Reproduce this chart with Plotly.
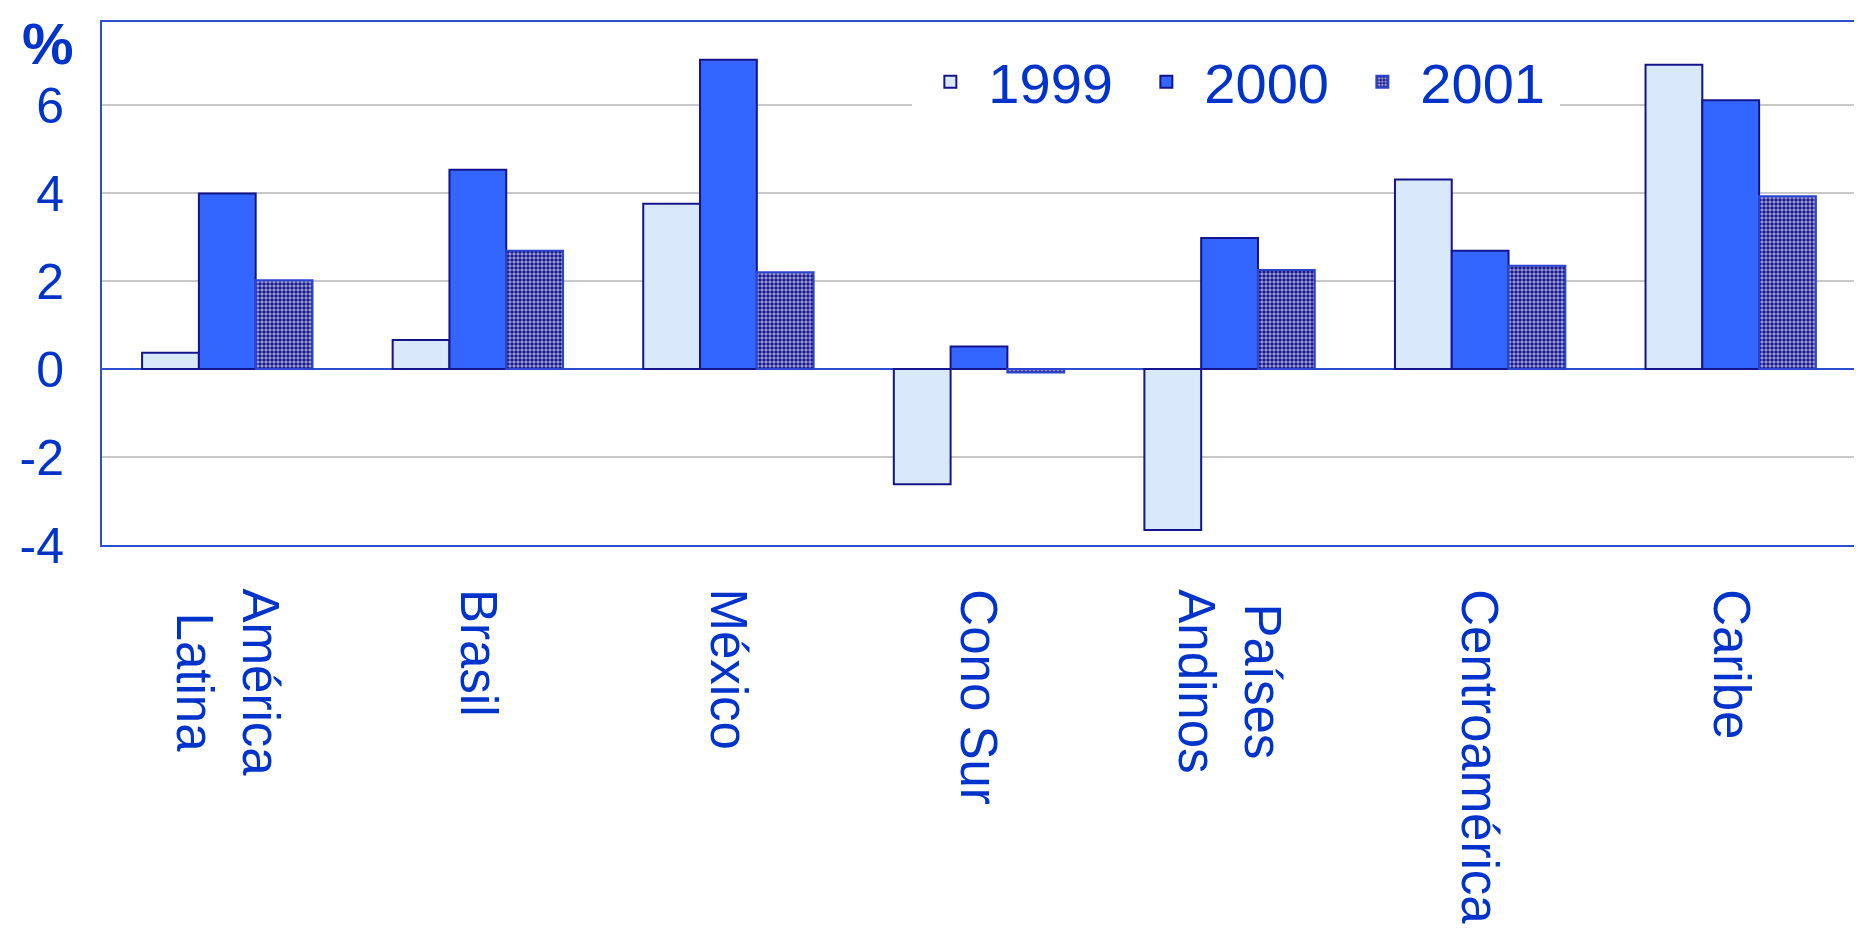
import plotly.graph_objects as go

categories = ["América<br>Latina", "Brasil", "México", "Cono Sur",
              "Países<br>Andinos", "Centroamérica", "Caribe"]
years = ["1999", "2000", "2001"]
v1999 = [0.37, 0.66, 3.76, -2.62, -3.66, 4.31, 6.92]
v2000 = [3.99, 4.53, 7.03, 0.51, 2.98, 2.69, 6.11]
v2001 = [2.02, 2.69, 2.20, -0.08, 2.25, 2.35, 3.93]
yticks = [-4, -2, 0, 2, 4, 6]

BLUE_TXT = "#0033cc"
AXIS = "#2a4fd0"
FONT = "Liberation Sans, Arial, sans-serif"

x_idx = list(range(len(categories)))

fig = go.Figure()
fig.add_trace(go.Bar(
    name=years[0], x=x_idx, y=v1999,
    marker=dict(color="#d9e8fb", line=dict(color="#14148c", width=2)),
))
fig.add_trace(go.Bar(
    name=years[1], x=x_idx, y=v2000,
    marker=dict(color="#3366ff", line=dict(color="#14148c", width=2)),
))
fig.add_trace(go.Bar(
    name=years[2], x=x_idx, y=v2001,
    marker=dict(color="#7e7ec8", line=dict(color="#2a44d0", width=2),
                pattern=dict(shape=".", fgcolor="#1a1a88", bgcolor="#a4a4dc",
                             size=4, solidity=0.6, fillmode="replace")),
))

annotations = [
    dict(text="<b>%</b>", xref="paper", yref="paper", x=-0.046, y=1.022,
         xanchor="left", yanchor="top", showarrow=False, borderpad=0,
         font=dict(size=58, color=BLUE_TXT, family=FONT)),
]
for i, c in enumerate(categories):
    annotations.append(dict(
        text=c, x=i, xref="x", yref="paper", y=-0.080,
        xanchor="center", yanchor="top", showarrow=False, textangle=90,
        align="center", font=dict(size=51, color=BLUE_TXT, family=FONT)))

fig.update_layout(
    width=1862, height=928,
    margin=dict(l=87, r=14, t=13, b=391),
    paper_bgcolor="white", plot_bgcolor="white",
    barmode="group", bargap=0.32, bargroupgap=0,
    font=dict(family=FONT, color=BLUE_TXT),
    showlegend=True,
    legend=dict(orientation="h", x=0.462, y=0.968, xanchor="left", yanchor="top",
                bgcolor="white", font=dict(size=56, color=BLUE_TXT, family=FONT),
                itemwidth=66, entrywidth=135, entrywidthmode="pixels",
                traceorder="normal"),
    annotations=annotations,
)
fig.update_xaxes(
    range=[-0.5, len(categories) - 0.5], showticklabels=False, ticks="",
    showgrid=False, showline=True, linecolor=AXIS, linewidth=2, mirror=True,
    zeroline=False,
)
fig.update_yaxes(
    range=[-4, 7.89], tickvals=yticks, ticktext=[str(t) for t in yticks],
    tickfont=dict(size=50, color=BLUE_TXT, family=FONT),
    ticks="outside", ticklen=26, tickcolor="rgba(0,0,0,0)",
    showgrid=True, gridcolor="#c8c8c8", gridwidth=1.5,
    zeroline=True, zerolinecolor=AXIS, zerolinewidth=2,
    showline=True, linecolor=AXIS, linewidth=2, mirror=True,
)

fig.write_html("out.html")
